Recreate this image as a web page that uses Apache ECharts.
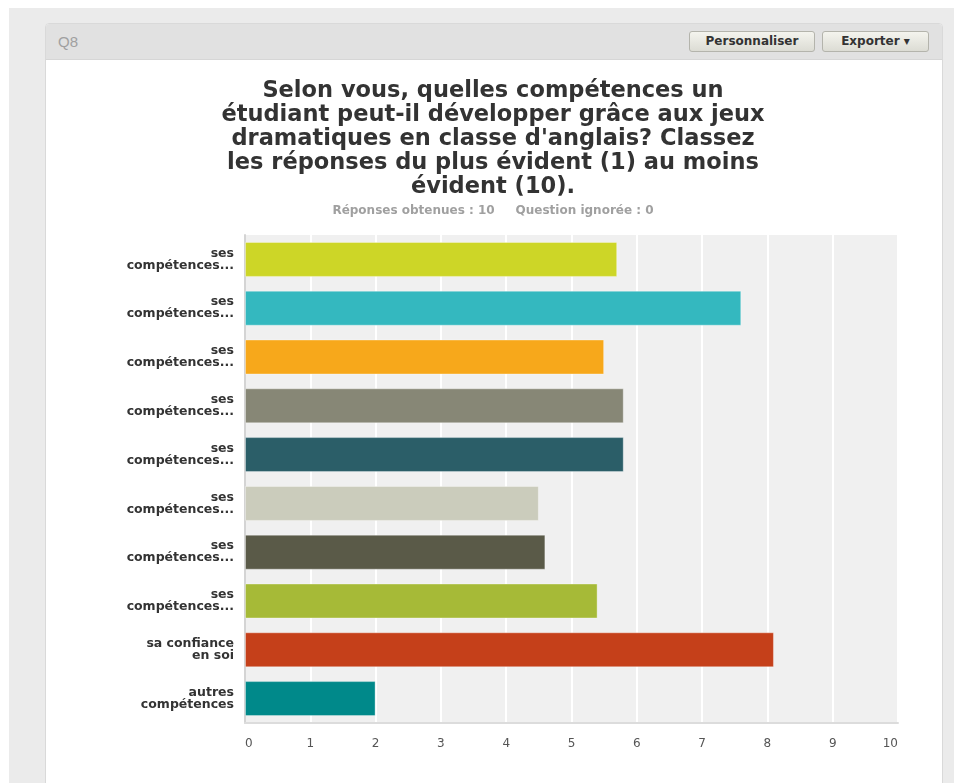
<!DOCTYPE html>
<html>
<head>
<meta charset="utf-8">
<script src="https://cdn.jsdelivr.net/npm/echarts@6/dist/echarts.min.js"></script>
<style>
html,body{margin:0;padding:0;background:#fff;width:954px;height:783px;overflow:hidden;font-family:"DejaVu Sans",sans-serif;}
#outer{position:absolute;left:9px;top:8px;width:945px;height:775px;background:#ebebeb;}
#panel{position:absolute;left:45px;top:23px;width:896px;height:770px;background:#fff;border:1px solid #d9d9d9;border-radius:4px;overflow:hidden;}
#head{position:absolute;left:0;top:0;width:100%;height:35px;background:#e1e1e1;border-bottom:1px solid #d6d6d6;}
#q{position:absolute;left:12px;top:9px;color:#a0a0a0;font:15px "Liberation Sans",Arial,sans-serif;}
.btn{position:absolute;top:7px;height:21px;box-sizing:border-box;border:1px solid #b4b4ac;border-radius:3px;background:linear-gradient(#f4f4ee,#dcdcd4);color:#333;font:bold 12px "DejaVu Sans",sans-serif;line-height:19px;text-align:center;}
#chart{position:absolute;left:45px;top:58px;width:896px;height:725px;}
</style>
</head>
<body>
<div id="outer"></div>
<div id="panel">
  <div id="head">
    <div id="q">Q8</div>
    <div class="btn" style="left:643px;width:126px;">Personnaliser</div>
    <div class="btn" style="left:776px;width:107px;">Exporter &#9662;</div>
  </div>
</div>
<div id="chart"></div>
<script>
var titleText = "Selon vous, quelles compétences un\nétudiant peut-il développer grâce aux jeux\ndramatiques en classe d'anglais? Classez\nles réponses du plus évident (1) au moins\névident (10).";
var subtitleText = "Réponses obtenues : 10     Question ignorée : 0";
var categories = [
  "ses\ncompétences...",
  "ses\ncompétences...",
  "ses\ncompétences...",
  "ses\ncompétences...",
  "ses\ncompétences...",
  "ses\ncompétences...",
  "ses\ncompétences...",
  "ses\ncompétences...",
  "sa confiance\nen soi",
  "autres\ncompétences"
];
var values = [5.7, 7.6, 5.5, 5.8, 5.8, 4.5, 4.6, 5.4, 8.1, 2.0];
var colors = ["#cdd627", "#34b8bf", "#f7a81b", "#878776", "#2b5e68", "#cbccbc", "#5a5a48", "#a6ba37", "#c5401a", "#00898a"];
var xTicks = [0, 1, 2, 3, 4, 5, 6, 7, 8, 9, 10];

var chart = echarts.init(document.getElementById('chart'));
chart.setOption({
  animation: false,
  title: [{
    text: titleText,
    left: 'center',
    top: 21,
    padding: 0,
    textStyle: {fontFamily: 'DejaVu Sans', fontWeight: 'bold', fontSize: 22.5, lineHeight: 24, color: '#333'}
  }, {
    text: subtitleText,
    left: 'center',
    top: 147,
    padding: 0,
    textStyle: {fontFamily: 'DejaVu Sans', fontWeight: 'bold', fontSize: 12, lineHeight: 12, color: '#a0a0a0'}
  }],
  grid: {left: 200, right: 43, top: 177, bottom: 60, show: true, backgroundColor: '#f0f0f0', borderWidth: 0, containLabel: false},
  xAxis: {
    type: 'value', min: xTicks[0], max: xTicks[xTicks.length - 1], interval: 1,
    axisLine: {show: true, lineStyle: {color: '#dcdcdc', width: 2}},
    axisTick: {show: false},
    splitLine: {show: true, lineStyle: {color: '#ffffff', width: 2}},
    axisLabel: {color: '#555', fontFamily: 'DejaVu Sans', fontSize: 12, margin: 15, alignMinLabel: 'left', alignMaxLabel: 'right'}
  },
  yAxis: {
    type: 'category', inverse: true, data: categories,
    axisLine: {show: true, onZero: false, lineStyle: {color: '#d4d4d4', width: 2}},
    axisTick: {show: false},
    splitLine: {show: false},
    axisLabel: {color: '#333', fontFamily: 'DejaVu Sans', fontWeight: 'bold', fontSize: 12.5, lineHeight: 12, margin: 11, align: 'right', padding: [4, 0, 0, 0]}
  },
  series: [{
    type: 'bar',
    barWidth: 35,
    data: values.map(function (v, i) {
      return {value: v, itemStyle: {color: colors[i], borderColor: 'rgba(255,255,255,0.35)', borderWidth: 1}};
    })
  }]
});
</script>
</body>
</html>
